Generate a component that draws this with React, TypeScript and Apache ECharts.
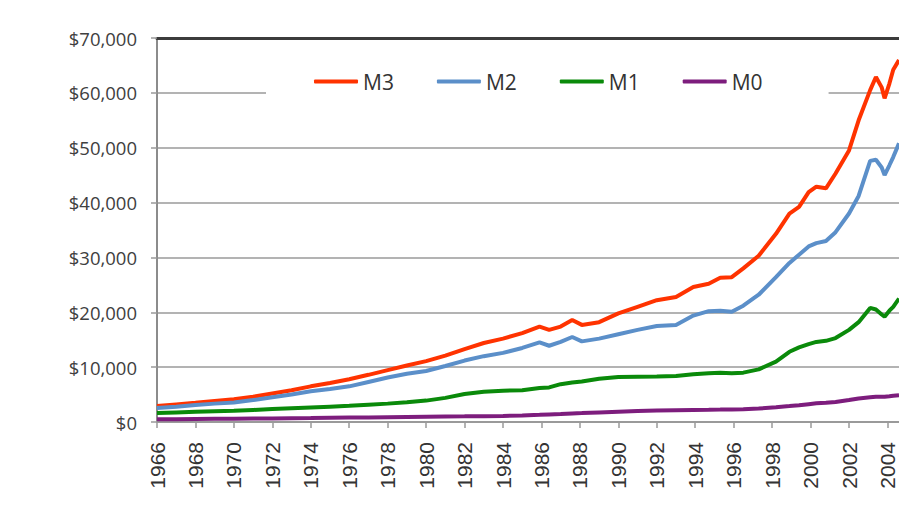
import React, { useEffect, useRef } from "react";
import * as echarts from "echarts";

const years = [
  1966, 1967, 1968, 1969, 1970, 1971, 1972, 1973, 1974, 1975, 1976, 1977, 1978, 1979,
  1980, 1981, 1982, 1983, 1984, 1985, 1985.9, 1986.4, 1987, 1987.6, 1988.1, 1989, 1990,
  1991, 1992, 1993, 1993.9, 1994.7, 1995.3, 1995.9, 1996.5, 1997.3, 1998.2, 1998.9,
  1999.4, 1999.9, 2000.3, 2000.8, 2001.3, 2002, 2002.5, 2003.1, 2003.4, 2003.7, 2003.85,
  2004.1, 2004.3, 2004.6,
];

const m3 = [
  2900, 3200, 3500, 3850, 4150, 4600, 5200, 5800, 6500, 7100, 7800, 8600, 9450, 10300,
  11100, 12100, 13300, 14400, 15200, 16200, 17400, 16800, 17400, 18600, 17700, 18200, 19800,
  21000, 22200, 22800, 24600, 25200, 26300, 26400, 28000, 30300, 34300, 38000,
  39200, 41900, 42900, 42600, 45300, 49500, 55000, 60500, 62900, 61000, 59000,
  61700, 64200, 66000,
];

const m2 = [
  2550, 2800, 3100, 3350, 3550, 4000, 4500, 5000, 5600, 6000, 6500, 7300, 8100, 8800,
  9300, 10200, 11200, 12000, 12600, 13500, 14500, 13900, 14600, 15500, 14700, 15200, 16000,
  16800, 17500, 17700, 19400, 20200, 20300, 20100, 21200, 23200, 26400, 29000,
  30500, 32000, 32600, 33000, 34600, 38000, 41200, 47600, 47800, 46400, 45000,
  46800, 48300, 50800,
];

const m1 = [
  1650, 1750, 1850, 1950, 2050, 2200, 2350, 2500, 2650, 2800, 2950, 3150, 3350, 3600,
  3900, 4400, 5100, 5500, 5700, 5800, 6200, 6300, 6900, 7200, 7400, 7900, 8200,
  8250, 8300, 8400, 8700, 8900, 9000, 8900, 9000, 9600, 11000, 12800,
  13600, 14200, 14600, 14800, 15300, 16800, 18200, 20800, 20500, 19600, 19200,
  20300, 21000, 22500,
];

const m0 = [
  500, 520, 550, 580, 600, 630, 660, 690, 720, 760, 800, 840, 880, 920,
  960, 1000, 1030, 1070, 1100, 1200, 1300, 1370, 1450, 1550, 1620, 1750, 1880,
  2000, 2080, 2150, 2200, 2230, 2260, 2300, 2330, 2450, 2700, 2900,
  3050, 3250, 3400, 3500, 3650, 4000, 4300, 4500, 4600, 4600, 4600,
  4700, 4800, 4900,
];

const seriesNames = ["M3", "M2", "M1", "M0"];
const seriesColors = ["#ff3300", "#5b8fc9", "#0a8a0a", "#7d1d7d"];
const tickYears = [
  1966, 1968, 1970, 1972, 1974, 1976, 1978, 1980, 1982, 1984, 1986, 1988, 1990, 1992,
  1994, 1996, 1998, 2000, 2002, 2004,
];

export default function App() {
  const ref = useRef<HTMLDivElement>(null);
  useEffect(() => {
    const chart = echarts.init(ref.current!, null, { renderer: "svg" });
    const allValues = [m3, m2, m1, m0];
    chart.setOption({
      animation: false,
      backgroundColor: "#ffffff",
      grid: { left: 157, right: 0, top: 38, bottom: 90, containLabel: false },
      legend: {
        left: 266,
        top: 61,
        padding: [10, 66, 12, 48],
        backgroundColor: "#ffffff",
        itemWidth: 44,
        itemHeight: 4,
        itemGap: 43,
        icon: "roundRect",
        textStyle: { fontSize: 21, fontFamily: "Open Sans", color: "#333333" },
        data: seriesNames,
      },
      xAxis: [
        {
          type: "value",
          min: 1966,
          max: 2004.6,
          position: "bottom",
          axisLine: { show: true, lineStyle: { color: "#9a9a9a", width: 2 } },
          axisTick: {
            show: true,
            length: 6,
            customValues: tickYears,
            lineStyle: { color: "#9a9a9a", width: 1.5 },
          },
          axisLabel: {
            customValues: tickYears,
            rotate: 90,
            margin: 20,
            fontSize: 21,
            fontFamily: "Liberation Sans",
            color: "#333333",
            formatter: (v: number) => String(Math.round(v)),
          },
          splitLine: { show: false },
        },
        {
          type: "value",
          min: 1966,
          max: 2004.6,
          position: "top",
          axisLine: { show: true, lineStyle: { color: "#3c3c3c", width: 3 } },
          axisTick: { show: false },
          axisLabel: { show: false },
          splitLine: { show: false },
        },
      ],
      yAxis: {
        type: "value",
        min: 0,
        max: 70000,
        interval: 10000,
        axisLine: { show: true, lineStyle: { color: "#8c8c8c", width: 2 } },
        axisTick: { show: true, length: 6, lineStyle: { color: "#9a9a9a", width: 1.5 } },
        axisLabel: {
          margin: 20,
          fontSize: 18.5,
          fontFamily: "Open Sans",
          color: "#404040",
          formatter: (v: number) => "$" + v.toLocaleString("en-US"),
        },
        splitLine: { show: true, lineStyle: { color: "#b3b3b3", width: 2 } },
      },
      series: seriesNames.map((name, k) => ({
        name,
        type: "line",
        xAxisIndex: 0,
        showSymbol: false,
        symbol: "none",
        silent: true,
        color: seriesColors[k],
        lineStyle: { color: seriesColors[k], width: 4 },
        data: years.map((y, i) => [y, allValues[k][i]]),
      })),
    });
    return () => chart.dispose();
  }, []);
  return (
    <div
      style={{
        position: "fixed",
        left: 0,
        top: 0,
        width: 899,
        height: 512,
        overflow: "hidden",
        background: "#fff",
      }}
    >
      <div ref={ref} style={{ width: 899, height: 512 }} />
    </div>
  );
}
